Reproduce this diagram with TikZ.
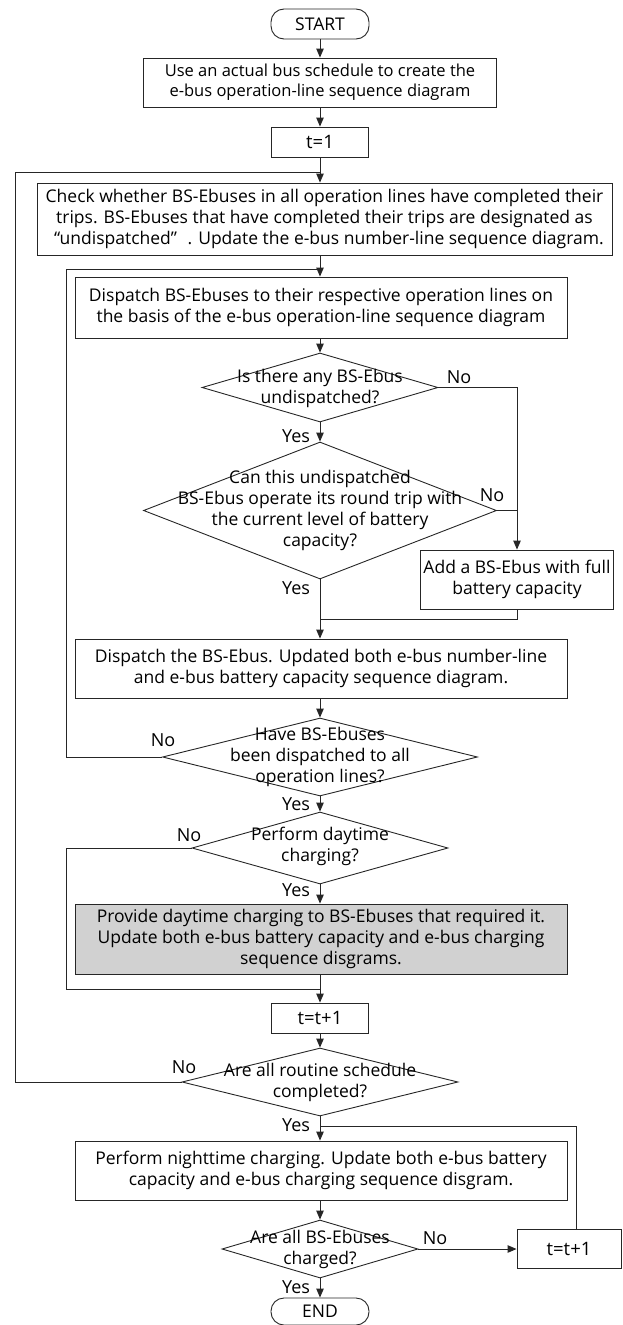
\documentclass[tikz,border=0pt]{standalone}
\usepackage{fontspec}
\setmainfont{Open Sans}
\usetikzlibrary{arrows.meta,shapes.geometric}

\begin{document}
\begin{tikzpicture}[x=1pt,y=-1pt,
  every node/.style={inner sep=0pt},
  ff/.style={font=\fontsize{17.5}{21}\selectfont},
  box/.style={ff, draw=black!85, line width=0.9pt, fill=white, align=center},
  term/.style={box, rounded corners=13pt},
  dia/.style={draw=black!85, diamond, line width=0.9pt},
  txt/.style={ff, align=center},
  lbl/.style={font=\fontsize{18}{21}\selectfont},
  line/.style={draw=black!85, line width=0.9pt},
  flow/.style={line, -{Triangle[length=9pt,width=7.5pt]}}
]
\useasboundingbox (0,0) rectangle (622,1325);

% main column
\node[term, minimum width=98, minimum height=30] (start) at (320,24) {START};
\node[box, font=\fontsize{16.5}{20}\selectfont, minimum width=353, minimum height=49] (b1) at (320,82.5)
  {Use an actual bus schedule to create the\\e-bus operation-line sequence diagram};
\node[box, font=\fontsize{18.5}{21}\selectfont, minimum width=97, minimum height=30] (t1) at (320,142) {t=1};
\node[box, minimum width=575, minimum height=72] (b2) at (324.5,219)
  {Check whether BS-Ebuses in all operation lines have completed their\\
   trips. BS-Ebuses that have completed their trips are designated as\\
   \hspace{0.5em}“undispatched”\hspace{0.6em}. Update the e-bus number-line sequence diagram.};
\node[box, minimum width=492, minimum height=61] (b3) at (321,307.5)
  {Dispatch BS-Ebuses to their respective operation lines on\\
   the basis of the e-bus operation-line sequence diagram};

\node[dia, minimum width=236, minimum height=69] (d1) at (320,387.5) {};
\node[txt] (d1t) at (320,388) {Is there any BS-Ebus\\undispatched?};

\node[dia, minimum width=353, minimum height=137] (d2) at (320,510.5) {};
\node[txt] (d2t) at (320,510) {Can this undispatched\\BS-Ebus operate its round trip with\\the current level of battery\\capacity?};

\node[box, minimum width=193, minimum height=59] (b4) at (517,579.5)
  {Add a BS-Ebus with full\\battery capacity};

\node[box, minimum width=492, minimum height=59] (b5) at (321,668.5)
  {Dispatch the BS-Ebus. Updated both e-bus number-line\\
   and e-bus battery capacity sequence diagram.};

\node[dia, minimum width=315, minimum height=78] (d3) at (320,757) {};
\node[txt] (d3t) at (320,757) {Have BS-Ebuses\\been dispatched to all\\operation lines?};

\node[dia, minimum width=256, minimum height=72] (d4) at (320,848) {};
\node[txt] (d4t) at (320,846) {Perform daytime\\charging?};

\node[box, fill=black!18, minimum width=492, minimum height=70] (b6) at (321,939)
  {Provide daytime charging to BS-Ebuses that required it.\\
   Update both e-bus battery capacity and e-bus charging\\
   sequence disgrams.};

\node[box, font=\fontsize{18.5}{21}\selectfont, minimum width=97, minimum height=30] (t2) at (320,1018) {t=t+1};

\node[dia, minimum width=276, minimum height=68] (d5) at (320,1082) {};
\node[txt] (d5t) at (320,1082) {Are all routine schedule\\completed?};

\node[box, minimum width=492, minimum height=59] (b7) at (321,1170.5)
  {Perform nighttime charging. Update both e-bus battery\\
   capacity and e-bus charging sequence disgram.};

\node[dia, minimum width=196, minimum height=58] (d6) at (320,1249) {};
\node[txt] (d6t) at (320,1249) {Are all BS-Ebuses\\charged?};

\node[box, font=\fontsize{18.5}{21}\selectfont, minimum width=104, minimum height=39] (t3) at (569,1249) {t=t+1};

\node[term, minimum width=98, minimum height=27] (end) at (320,1311.5) {END};

% junction points of the loops
\coordinate (jA) at (320,172);  \coordinate (lA) at (15,172);
\coordinate (jB) at (320,269);  \coordinate (lB) at (66,269);
\coordinate (jC) at (320,619);
\coordinate (jD) at (320,989);  \coordinate (lD) at (66,989);
\coordinate (jE) at (320,1126); \coordinate (lE) at (576,1126);

% straight flow
\draw[flow] (start.south) -- (b1.north);
\draw[flow] (b1.south) -- (t1.north);
\draw[flow] (t1.south) -- (t1.south |- b2.north);
\draw[flow] (t1.south |- b2.south) -- (b3.north -| t1.south);
\draw[flow] (b3.south -| d1.north) -- (d1.north);
\draw[flow] (d1.south) -- (d2.north);
\draw[flow] (d2.south) -- (b5.north -| d2.south);
\draw[flow] (b5.south -| d3.north) -- (d3.north);
\draw[flow] (d3.south) -- (d4.north);
\draw[flow] (d4.south) -- (b6.north -| d4.south);
\draw[flow] (b6.south -| t2.north) -- (t2.north);
\draw[flow] (t2.south) -- (d5.north);
\draw[flow] (d5.south) -- (b7.north -| d5.south);
\draw[flow] (b7.south -| d6.north) -- (d6.north);
\draw[flow] (d6.south) -- (end.north);

% branches
\draw[flow] (d1.east) -| (b4.north);
\draw[line] (d2.east) -- (d2.east -| b4.north);
\draw[line] (b4.south) |- (jC);
\draw[flow] (d6.east) -- (t3.west);

% loops
\draw[line] (d5.west) -| (lA) -- (jA);
\draw[line] (d3.west) -| (lB) -- (jB);
\draw[line] (d4.west) -| (lD) -- (jD);
\draw[line] (t3.north -| lE) -- (lE) -- (jE);

% branch labels
\node[lbl] (n1) at (459,377) {No};
\node[lbl] (y1) at (296,436) {Yes};
\node[lbl] (n2) at (492,495) {No};
\node[lbl] (y2) at (296,588) {Yes};
\node[lbl] (n3) at (163,740) {No};
\node[lbl] (y3) at (296,804) {Yes};
\node[lbl] (n4) at (189,835) {No};
\node[lbl] (y4) at (296,890) {Yes};
\node[lbl] (n5) at (184,1067) {No};
\node[lbl] (y5) at (296,1125) {Yes};
\node[lbl] (n6) at (435,1238) {No};
\node[lbl] (y6) at (296,1287) {Yes};
\end{tikzpicture}
\end{document}
